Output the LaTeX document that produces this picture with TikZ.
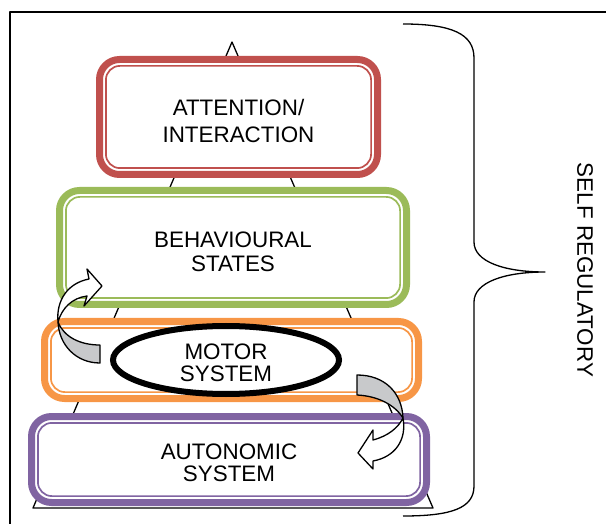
\documentclass[tikz,border=0pt]{standalone}
\usepackage{fontspec}
\setmainfont{Liberation Sans}
\usepackage{tikz}
\usetikzlibrary{shapes.geometric}
\definecolor{attred}{HTML}{C0504D}
\definecolor{behgreen}{HTML}{9BBB59}
\definecolor{motorange}{HTML}{F79646}
\definecolor{autpurple}{HTML}{8064A2}
\definecolor{arrowgray}{HTML}{C8C9CB}

\begin{document}
\begin{tikzpicture}[x=0.5pt,y=-0.5pt,
  layer/.style={draw=#1,line width=3.5pt,rounded corners=10pt,fill=white,inner sep=0pt,outer sep=0pt,align=center},
  innerline/.style={draw=#1,line width=0.85pt,rounded corners=7pt},
  thinline/.style={line width=0.65pt,line join=round},
  turnarrow/.style={draw=black,line width=0.65pt,line join=round}]
\useasboundingbox (0,0) rectangle (606,524);
\draw[thinline] (606,12) -- (10,12) -- (10,524);

\coordinate (apex) at (232,42);
\coordinate (baseL) at (33,508);
\coordinate (baseR) at (433,508);
\draw[thinline] (apex) -- (baseL) -- (baseR) -- cycle;

\draw[thinline] (403,24) .. controls (452,24) and (474,34) .. (474,58) -- (474,242)
  .. controls (474,262) and (505,272) .. (545,272)
  .. controls (505,272) and (474,282) .. (474,302) -- (474,486)
  .. controls (474,508) and (452,516) .. (403,516);
\node[rotate=-90,font=\fontsize{11.2}{13}\selectfont] (selfreg) at (585,270) {SELF REGULATORY};

\node[layer=attred,minimum width=139pt,minimum height=57.5pt,font=\fontsize{11.2}{13.5}\selectfont] (att) at (238.5,117) {\rule{0pt}{12pt}ATTENTION/\\INTERACTION};
\node[layer=behgreen,minimum width=173.5pt,minimum height=57pt,font=\fontsize{11.2}{12}\selectfont] (beh) at (233,247.5) {\rule{0pt}{12.6pt}BEHAVIOURAL\\STATES};
\node[layer=motorange,minimum width=187pt,minimum height=38.5pt] (motbox) at (231.5,360) {};
\node[layer=autpurple,minimum width=197.5pt,minimum height=43pt,font=\fontsize{11.2}{11}\selectfont] (aut) at (229,459.5) {\rule{0pt}{11.6pt}AUTONOMIC\\SYSTEM};

\foreach \n/\c in {att/attred,beh/behgreen,motbox/motorange,aut/autpurple}
  \draw[innerline=\c] ([shift={(3.2pt,3.2pt)}]\n.south west) rectangle ([shift={(-3.2pt,-3.2pt)}]\n.north east);

\node[ellipse,draw,fill=white,line width=3pt,minimum width=113pt,minimum height=34pt,inner sep=0pt,outer sep=0pt,align=center,font=\fontsize{11.2}{11}\selectfont] (motor) at (226,360) {\rule{0pt}{10.6pt}MOTOR\\SYSTEM};

% motor -> behavioural states
\draw[turnarrow,fill=arrowgray] (100,345) .. controls (80,345) and (64,337) .. (58,322)
  .. controls (59,345) and (76,363) .. (100,363) -- cycle;
\draw[turnarrow,fill=white] (58,322) .. controls (56,300) and (68,283) .. (89,279) -- (87,269) -- (102,286)
  -- (84,306) -- (87,296) .. controls (72,298) and (62,308) .. (58,322) -- cycle;

% motor -> autonomic system
\draw[turnarrow,fill=arrowgray] (357,375) .. controls (385,375) and (402,393) .. (403,418)
  .. controls (395,405) and (378,396) .. (357,395) -- cycle;
\draw[turnarrow,fill=white] (403,418) .. controls (407,440) and (395,457) .. (373,461) -- (373,469) -- (358,453)
  -- (373,430) -- (373,440) .. controls (388,436) and (398,428) .. (403,418) -- cycle;
\end{tikzpicture}
\end{document}
